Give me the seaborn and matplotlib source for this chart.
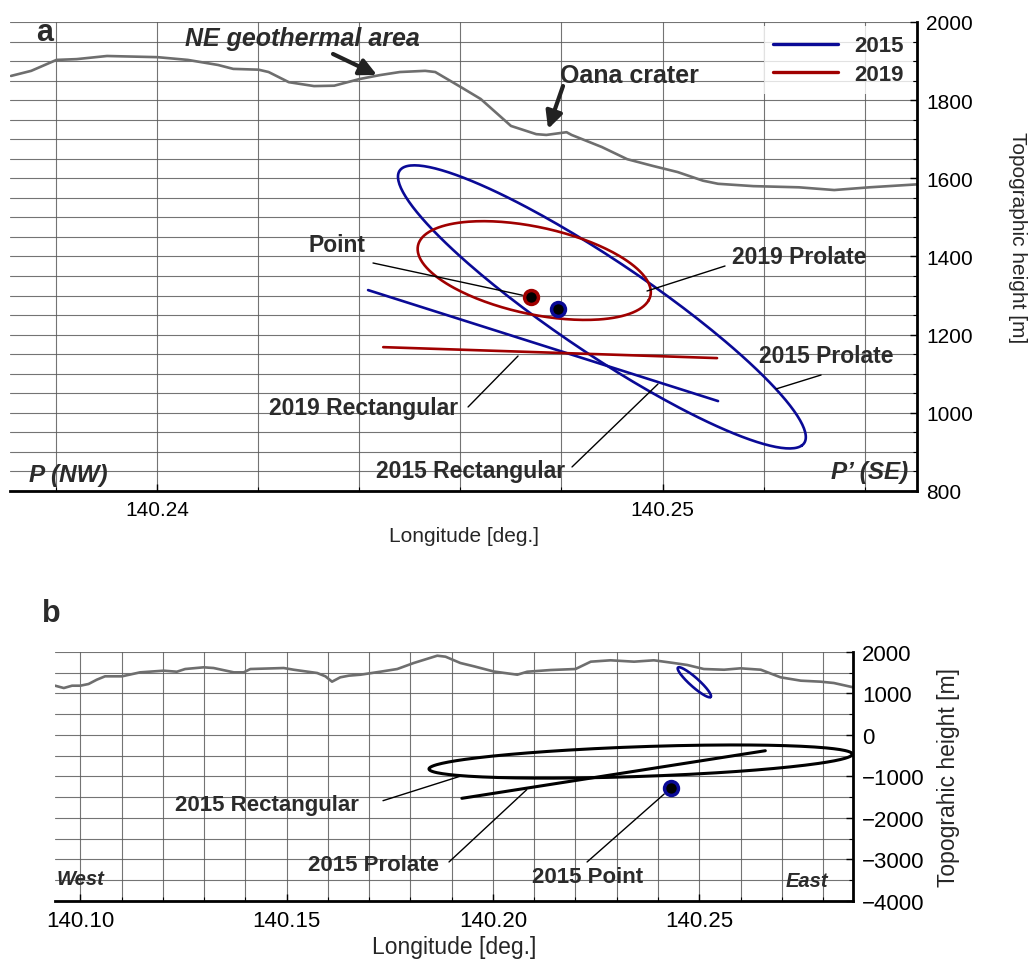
import numpy as np
import matplotlib
matplotlib.use("Agg")
import matplotlib.pyplot as plt
from matplotlib.ticker import MultipleLocator, FormatStrFormatter
from matplotlib.lines import Line2D
import seaborn as sns

sns.set_theme(style="white")
plt.rcParams['font.family'] = ['Liberation Sans', 'DejaVu Sans']

# ------------------------------
# Dados
# ------------------------------

# perfil topografico P-P' (painel a)
topo_a_lon = [140.2371, 140.2375, 140.2380, 140.2384, 140.2390, 140.2400, 140.2406,
              140.2412, 140.2415, 140.2420, 140.2422, 140.2426, 140.2431, 140.2435,
              140.2440, 140.2444, 140.2448, 140.2453, 140.2455, 140.2460, 140.2464,
              140.2470, 140.2475, 140.2477, 140.2481, 140.2482, 140.2488, 140.2493,
              140.2498, 140.2503, 140.2508, 140.2511, 140.2518, 140.2527, 140.2534,
              140.2541, 140.2551]
topo_a_z = [1862, 1875, 1903, 1905, 1913, 1910, 1903, 1890, 1880, 1878, 1872, 1846,
            1836, 1837, 1854, 1864, 1872, 1875, 1872, 1834, 1803, 1734, 1713, 1711,
            1718, 1711, 1680, 1649, 1632, 1616, 1594, 1586, 1580, 1577, 1570, 1577,
            1585]

# perfil topografico oeste-leste (painel b)
topo_b_lon = [140.0939, 140.0960, 140.0980, 140.1000, 140.1020, 140.1040, 140.1060,
              140.1101, 140.1145, 140.1202, 140.1234, 140.1254, 140.1299, 140.1323,
              140.1372, 140.1396, 140.1412, 140.1493, 140.1517, 140.1574, 140.1594,
              140.1610, 140.1630, 140.1651, 140.1679, 140.1727, 140.1768, 140.1808,
              140.1865, 140.1885, 140.1921, 140.1954, 140.2002, 140.2059, 140.2083,
              140.2140, 140.2200, 140.2237, 140.2285, 140.2342, 140.2390, 140.2438,
              140.2471, 140.2511, 140.2560, 140.2600, 140.2649, 140.2697, 140.2746,
              140.2794, 140.2826, 140.2873]
topo_b_z = [1188, 1132, 1188, 1188, 1229, 1333, 1414, 1414, 1510, 1550, 1525, 1590,
            1631, 1614, 1510, 1510, 1590, 1614, 1573, 1494, 1414, 1285, 1390, 1430,
            1453, 1525, 1590, 1735, 1911, 1887, 1735, 1655, 1530, 1453, 1525, 1566,
            1590, 1767, 1800, 1767, 1800, 1735, 1687, 1590, 1573, 1607, 1573, 1390,
            1309, 1285, 1253, 1149]

# fontes: esferoide prolato (lon centro, z centro, semi-eixo maior [m], menor [m], mergulho [graus])
prolate_2015 = [140.24880, 1271, 494, 101, 46.0]
prolate_2019 = [140.24746, 1364, 211, 108, 21.2]
deep_2015 = [140.23580, -640, 4460, 358, -2.3]

# fontes retangulares (tracos)
rect_2015_lon = [140.24417, 140.25110]
rect_2015_z = [1314, 1030]
rect_2019_lon = [140.24447, 140.25108]
rect_2019_z = [1168, 1140]
rect_2015b_lon = [140.19247, 140.26600]
rect_2015b_z = [-1526, -379]

# fontes pontuais
point_2015 = [140.24793, 1266]
point_2019 = [140.24740, 1296]
point_2015b = [140.24314, -1278]

M_PER_DEG = 86870.0  # metros por grau de longitude


def contorno(lon0, z0, a, b, mergulho, n=240):
    t = np.linspace(0, 2 * np.pi, n)
    th = np.deg2rad(mergulho)
    e = a * np.cos(t) * np.cos(th) - b * np.sin(t) * np.sin(th)
    u = -a * np.cos(t) * np.sin(th) - b * np.sin(t) * np.cos(th)
    return lon0 + e / M_PER_DEG, z0 + u


BLUE = '#0a0a96'
RED = '#a00000'
TOPO = '#6e6e6e'
TXT = '#2b2b2b'

fig = plt.figure(figsize=(10.32, 9.62), dpi=100)
ax_a = fig.add_axes([0.0097, 0.4886, 0.8789, 0.4875])
ax_b = fig.add_axes([0.0533, 0.0624, 0.7733, 0.2588])


def estilo(ax, labelsize):
    ax.set_axisbelow(True)
    ax.grid(True, which='both', color='#5c5c5c', lw=0.8, alpha=0.85)
    ax.yaxis.tick_right()
    ax.tick_params(which='both', direction='in', left=False, top=False,
                   bottom=True, right=True, colors='black', labelsize=labelsize)
    ax.tick_params(which='major', length=5, width=1, pad=6.5)
    ax.tick_params(which='minor', length=3, width=0.8)
    for s in ['left', 'top']:
        ax.spines[s].set_visible(False)
    for s in ['bottom', 'right']:
        ax.spines[s].set_visible(True)
        ax.spines[s].set_color('black')
        ax.spines[s].set_linewidth(2)


# ------------------------------
# Painel a
# ------------------------------
sns.lineplot(x=topo_a_lon, y=topo_a_z, ax=ax_a, color=TOPO, lw=1.9, sort=False, estimator=None)

lx, lz = contorno(*prolate_2015)
sns.lineplot(x=lx, y=lz, ax=ax_a, color=BLUE, lw=1.9, sort=False, estimator=None)
lx, lz = contorno(*prolate_2019)
sns.lineplot(x=lx, y=lz, ax=ax_a, color=RED, lw=1.9, sort=False, estimator=None)
sns.lineplot(x=rect_2015_lon, y=rect_2015_z, ax=ax_a, color=BLUE, lw=1.9, sort=False, estimator=None)
sns.lineplot(x=rect_2019_lon, y=rect_2019_z, ax=ax_a, color=RED, lw=1.9, sort=False, estimator=None)

ax_a.plot(point_2019[0], point_2019[1], 'o', ms=10, mfc='black', mec=RED, mew=2.5, zorder=5)
ax_a.plot(point_2015[0], point_2015[1], 'o', ms=10, mfc='black', mec=BLUE, mew=2.5, zorder=5)

ax_a.set_xlim(140.23708, 140.25504)
ax_a.set_ylim(800, 2000)
estilo(ax_a, 15)
ax_a.set_xticks([140.24, 140.25])
ax_a.xaxis.set_major_formatter(FormatStrFormatter('%.2f'))
ax_a.xaxis.set_minor_locator(MultipleLocator(0.002))
ax_a.yaxis.set_major_locator(MultipleLocator(200))
ax_a.yaxis.set_minor_locator(MultipleLocator(50))
ax_a.set_xlabel('Longitude [deg.]', fontsize=15, labelpad=5)
ax_a.yaxis.set_label_position('right')
ax_a.set_ylabel('Topographic height [m]', fontsize=15, rotation=270, va='bottom')
ax_a.yaxis.set_label_coords(1.1003, 0.5416)

leg = ax_a.legend(handles=[Line2D([], [], color=BLUE, lw=2.4), Line2D([], [], color=RED, lw=2.4)],
                  labels=['2015', '2019'], loc='upper right', prop={'weight': 'bold', 'size': 16},
                  framealpha=0.8, edgecolor='none', fancybox=False, borderaxespad=0.2,
                  borderpad=0.4, handlelength=2.9, handletextpad=0.75, labelspacing=0.35)
for t in leg.get_texts():
    t.set_color(TXT)

ta = ax_a.transAxes
ax_a.text(0.0386, 0.9787, 'a', transform=ta, fontsize=22, fontweight='bold', color=TXT,
          ha='center', va='center')
ax_a.text(0.3219, 0.9659, 'NE geothermal area', transform=ta, fontsize=18, fontweight='bold',
          style='italic', color=TXT, ha='center', va='center')
ax_a.text(0.6825, 0.8870, 'Oana crater', transform=ta, fontsize=18, fontweight='bold',
          color=TXT, ha='center', va='center')
seta = dict(arrowstyle='-|>,head_length=0.85,head_width=0.42', lw=3, color='#222222',
            mutation_scale=12, shrinkA=0, shrinkB=0)
ax_a.annotate('', xy=(0.4046, 0.8870), xytext=(0.3561, 0.9318), xycoords=ta, textcoords=ta,
              arrowprops=seta)
ax_a.annotate('', xy=(0.5932, 0.7719), xytext=(0.6097, 0.8635), xycoords=ta, textcoords=ta,
              arrowprops=seta)

fio = dict(arrowstyle='-', lw=1, color='black', shrinkA=0, shrinkB=0)
rotulos_a = [
    ('Point', (0.3605, 0.5245), (0.4002, 0.4861), None),
    ('2019 Prolate', (0.8699, 0.4989), (0.7883, 0.4797), (0.7023, 0.4264)),
    ('2015 Prolate', (0.8997, 0.2878), (0.8942, 0.2473), (0.8445, 0.2175)),
    ('2019 Rectangular', (0.3903, 0.1770), (0.5050, 0.1791), (0.5601, 0.2878)),
    ('2015 Rectangular', (0.5083, 0.0430), (0.6196, 0.0512), (0.7144, 0.2281)),
]
for txt, pos, p0, p1 in rotulos_a:
    ax_a.text(pos[0], pos[1], txt, transform=ta, fontsize=16.5, fontweight='bold',
              color=TXT, ha='center', va='center')
    if p1 is None:
        ax_a.annotate('', xy=point_2019, xycoords='data', xytext=p0, textcoords=ta,
                      arrowprops=dict(fio, shrinkB=6.5))
    else:
        ax_a.annotate('', xy=p1, xycoords=ta, xytext=p0, textcoords=ta, arrowprops=fio)

ax_a.text(0.0209, 0.0341, 'P (NW)', transform=ta, fontsize=17.5, fontweight='bold',
          style='italic', color=TXT, ha='left', va='center')
ax_a.text(0.9901, 0.0405, 'P\u2019 (SE)', transform=ta, fontsize=17.5, fontweight='bold',
          style='italic', color=TXT, ha='right', va='center')

# ------------------------------
# Painel b
# ------------------------------
sns.lineplot(x=topo_b_lon, y=topo_b_z, ax=ax_b, color=TOPO, lw=1.9, sort=False, estimator=None)
lx, lz = contorno(*prolate_2015)
sns.lineplot(x=lx, y=lz, ax=ax_b, color=BLUE, lw=1.9, sort=False, estimator=None)
lx, lz = contorno(*deep_2015)
sns.lineplot(x=lx, y=lz, ax=ax_b, color='black', lw=2.2, sort=False, estimator=None)
sns.lineplot(x=rect_2015b_lon, y=rect_2015b_z, ax=ax_b, color='black', lw=2.2, sort=False,
             estimator=None)
ax_b.plot(point_2015b[0], point_2015b[1], 'o', ms=10, mfc='black', mec=BLUE, mew=2.5, zorder=5)

ax_b.set_xlim(140.09387, 140.28726)
ax_b.set_ylim(-4000, 2000)
estilo(ax_b, 16)
ax_b.xaxis.set_major_locator(MultipleLocator(0.05))
ax_b.xaxis.set_major_formatter(FormatStrFormatter('%.2f'))
ax_b.xaxis.set_minor_locator(MultipleLocator(0.01))
ax_b.yaxis.set_major_locator(MultipleLocator(1000))
ax_b.yaxis.set_minor_locator(MultipleLocator(500))
ax_b.set_xlabel('Longitude [deg.]', fontsize=16.5, labelpad=3)
ax_b.yaxis.set_label_position('right')
ax_b.set_ylabel('Topograhic height [m]', fontsize=16.5)
ax_b.yaxis.set_label_coords(1.1053, 0.5)

tb = ax_b.transAxes
fig.text(0.0494, 0.3617, 'b', fontsize=22, fontweight='bold', color=TXT, ha='center', va='center')
rotulos_b = [
    ('2015 Rectangular', (0.2657, 0.3855), (0.4110, 0.4028), (0.5075, 0.5008)),
    ('2015 Prolate', (0.3985, 0.1446), (0.4937, 0.1566), (0.5911, 0.4470)),
    ('2015 Point', (0.6679, 0.0964), (0.6667, 0.1566), None),
]
for txt, pos, p0, p1 in rotulos_b:
    ax_b.text(pos[0], pos[1], txt, transform=tb, fontsize=16, fontweight='bold',
              color=TXT, ha='center', va='center')
    if p1 is None:
        ax_b.annotate('', xy=point_2015b, xycoords='data', xytext=p0, textcoords=tb,
                      arrowprops=dict(fio, shrinkB=6.5))
    else:
        ax_b.annotate('', xy=p1, xycoords=tb, xytext=p0, textcoords=tb, arrowprops=fio)

ax_b.text(0.0025, 0.0884, 'West', transform=tb, fontsize=14.5, fontweight='bold',
          style='italic', color=TXT, ha='left', va='center')
ax_b.text(0.9687, 0.0803, 'East', transform=tb, fontsize=14.5, fontweight='bold',
          style='italic', color=TXT, ha='right', va='center')

fig.savefig('out.png', dpi=100)
